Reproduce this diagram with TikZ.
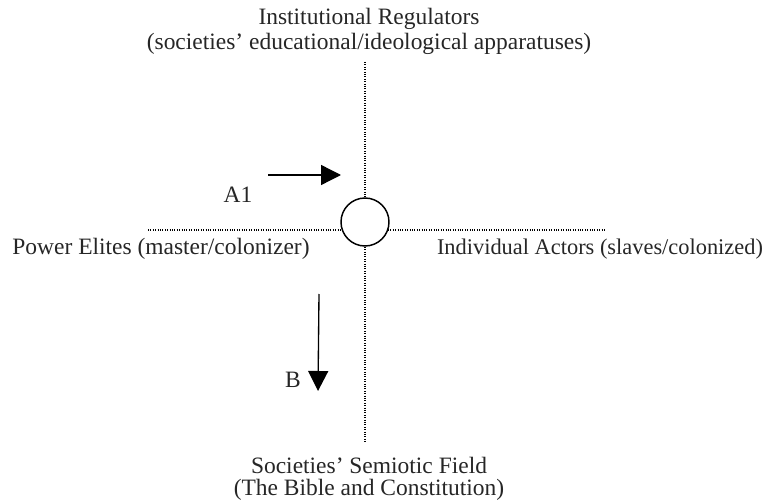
\documentclass[tikz,border=0pt]{standalone}
\usepackage{fontspec}
\setmainfont{Liberation Serif}
\usetikzlibrary{arrows.meta}
\begin{document}
\begin{tikzpicture}[x=0.75pt,y=-0.75pt,
  axis/.style={line width=0.8pt, dash pattern=on 0.6pt off 1.2pt},
  flow/.style={line width=1pt, -{Triangle[length=15pt,width=15pt]}},
  lbl/.style={font=\fontsize{17.6}{21}\selectfont, text=black!85, inner sep=0pt, align=center},
  hub/.style={circle, draw, line width=1.1pt, minimum size=36pt, inner sep=0pt, fill=white}]
\useasboundingbox (0,0) rectangle (769,503);
% axes, drawn first so the hub sits on top of them
\coordinate (top) at (365,62);
\coordinate (bot) at (365,443);
\coordinate (lft) at (148,230);
\coordinate (rgt) at (605,230);
\draw[axis] (top) -- (bot);
\draw[axis] (lft) -- (rgt);
\node[hub] (c) at (365,222) {};
% labels at the four ends
\node[lbl] (n1) at (369,19) {Institutional Regulators};
\node[lbl] (n2) at (369,44) {(societies’ educational/ideological apparatuses)};
\node[lbl] (w) at (161,249) {Power Elites (master/colonizer)};
\node[lbl, font=\fontsize{16.8}{20}\selectfont] (e) at (600,249) {Individual Actors (slaves/colonized)};
\node[lbl] (s1) at (369,465) {Societies’ Semiotic Field};
\node[lbl] (s2) at (369,490) {(The Bible and Constitution)};
% flow arrows
\coordinate (a1s) at (268,175);
\coordinate (a1e) at (341,175);
\draw[flow] (a1s) -- (a1e);
\node[lbl] (a1) at (238,195) {A1};
\coordinate (bs) at (319,294);
\coordinate (be) at (318,391);
\draw[flow] (bs) -- (be);
\node[lbl] (b) at (293,380) {B};
\end{tikzpicture}
\end{document}
